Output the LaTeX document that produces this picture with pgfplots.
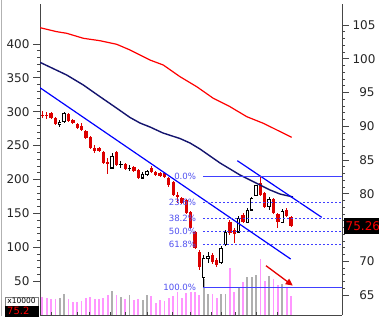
\documentclass[border=0pt]{standalone}
\usepackage{pgfplots}
\pgfplotsset{compat=1.18}
\usepackage{pgfplotstable}
\usepackage{fontspec}
\setmainfont{DejaVu Sans}
\usetikzlibrary{arrows.meta}

\definecolor{candred}{RGB}{220,0,0}
\definecolor{volpink}{RGB}{255,150,255}
\definecolor{volgray}{RGB}{175,175,175}
\definecolor{fibblue}{RGB}{64,64,255}
\definecolor{fibtext}{RGB}{80,80,240}
\definecolor{navyma}{RGB}{20,20,110}
\definecolor{trendblue}{RGB}{0,0,255}
\definecolor{axisgray}{RGB}{70,70,70}

% red (down) candles: index, open, high, low, close, volume (x10000)
\pgfplotstableread{
i o h l c v
0 91.67 92.26 91.22 91.52 27.0
1 91.74 92.11 91.07 91.59 25.6
2 91.96 92.11 91.07 91.22 23.2
3 91.22 91.37 90.19 90.33 23.2
6 91.81 91.96 90.63 90.78 24.1
7 90.93 91.07 90.33 90.48 19.6
8 90.33 90.48 89.59 89.74 19.6
9 90.04 90.48 89.30 89.44 21.1
10 89.30 89.44 88.11 88.26 24.7
11 88.41 88.56 86.63 86.78 26.6
12 86.78 87.22 86.04 86.33 23.2
13 86.78 86.93 86.19 86.33 23.2
14 86.19 86.33 84.41 84.56 25.6
15 84.70 85.30 82.93 84.56 30.0
17 86.19 86.33 84.11 84.26 30.0
19 84.41 84.56 83.52 83.67 24.1
21 83.96 84.11 83.22 83.37 22.2
22 83.52 83.67 82.19 82.33 24.1
25 83.81 84.11 83.07 83.22 28.1
26 83.22 83.37 82.63 82.78 18.2
27 83.07 83.22 82.48 82.63 21.7
28 83.07 83.22 82.33 82.48 21.1
29 82.33 82.48 81.00 81.30 24.7
30 81.74 81.89 79.67 79.81 28.1
31 79.81 80.26 78.63 79.52 33.5
32 79.37 79.52 78.48 78.63 24.7
33 79.07 79.22 77.00 77.15 32.1
34 77.30 77.44 74.78 74.93 33.5
35 74.33 74.48 71.81 71.96 34.4
36 71.37 71.67 68.70 69.15 29.5
39 70.93 71.22 69.59 69.89 30.6
40 70.19 70.48 69.15 69.44 24.7
43 75.81 76.11 73.89 74.19 69.9
44 74.63 74.93 72.70 74.04 33.5
46 76.85 77.15 75.67 75.81 48.3
50 81.59 82.63 79.67 79.81 82.0
51 80.11 80.26 77.89 78.04 50.2
53 79.22 79.37 77.00 77.15 53.2
54 77.00 77.15 74.93 75.81 44.3
56 77.59 77.89 76.56 76.70 39.9
57 76.56 76.70 75.07 75.26 28.1
}\downc

% hollow (up) candles
\pgfplotstableread{
i o h l c v
4 90.19 90.93 89.89 90.63 25.6
5 90.63 92.11 90.48 91.96 31.0
16 83.81 86.04 83.67 85.59 35.5
18 84.33 84.85 83.81 84.41 26.1
20 83.74 84.26 83.37 83.81 30.0
23 82.33 83.22 82.19 82.93 22.6
24 82.78 83.52 82.63 83.37 29.1
37 67.52 70.93 66.18 70.48 53.2
38 70.48 71.37 69.74 70.78 31.0
41 69.74 72.26 69.59 71.96 30.6
42 72.41 74.63 72.26 74.33 30.6
45 74.33 76.70 74.19 76.41 39.4
47 75.81 77.89 75.67 77.59 56.6
48 77.59 79.52 77.44 79.37 56.6
49 79.81 81.30 79.67 81.16 59.1
52 78.04 79.52 77.59 79.22 58.3
55 75.81 77.74 75.67 77.44 45.1
}\upc

\begin{document}
\begin{tikzpicture}
% ---------- volume axis (left) ----------
\begin{axis}[
  at={(40pt,1pt)}, anchor=south west, scale only axis,
  width=302pt, height=311pt,
  xmin=-0.53, xmax=68.69, ymin=0, ymax=459,
  axis y line*=left, axis x line=none,
  ytick={50,100,...,400}, minor y tick num=4,
  tick align=outside, major tick length=7pt, minor tick length=3pt,
  axis line style={draw=axisgray, line width=0.8pt},
  every tick/.style={draw=axisgray, line width=0.8pt},
  /pgf/number format/assume math mode=true,
  yticklabel style={font=\fontsize{12}{12}\selectfont, text=black!85},
]
\addplot[ycomb, volpink, line width=1.8pt] table[x=i,y=v]{\downc};
\addplot[ycomb, volgray, line width=1.8pt] table[x=i,y=v]{\upc};
\end{axis}

% ---------- bottom time axis ----------
\begin{axis}[
  at={(40pt,1pt)}, anchor=south west, scale only axis,
  width=302pt, height=311pt,
  xmin=-0.53, xmax=68.69, ymin=0, ymax=1,
  axis y line=none, axis x line*=bottom,
  xtick={2.0,7.95,10.9,15.5,19.0,24.2,29.9,34.0,38.8,41.1,44.2,49.0,53.9},
  xticklabels={},
  tick align=inside, major tick length=3pt,
  axis line style={draw=axisgray, line width=0.8pt},
  every tick/.style={draw=axisgray, line width=0.8pt},
]
\addplot[draw=none] coordinates {(0,0)};
\end{axis}

% ---------- price axis (right) ----------
\begin{axis}[
  at={(40pt,1pt)}, anchor=south west, scale only axis,
  width=302pt, height=311pt,
  xmin=-0.53, xmax=68.69, ymin=62.04, ymax=108.11,
  axis x line=none, axis y line*=right,
  ytick={65,70,75,80,85,90,95,100,105},
  yticklabels={65,70,,80,85,90,95,100,105},
  minor y tick num=4,
  tick align=outside, major tick length=7pt, minor tick length=3pt,
  axis line style={draw=axisgray, line width=0.8pt},
  every tick/.style={draw=axisgray, line width=0.8pt},
  yticklabel style={font=\fontsize{12}{12}\selectfont, text=black!85, text width=22pt, align=right},
]
% red candles: wicks, bodies
\addplot[draw=none, mark=none, forget plot,
  error bars/.cd, y dir=both, y explicit, error mark=none,
  error bar style={draw=candred, line width=0.9pt}]
  table[x=i, y expr={(\thisrow{h}+\thisrow{l})/2}, y error expr={(\thisrow{h}-\thisrow{l})/2}]{\downc};
\addplot[draw=none, mark=none, forget plot,
  error bars/.cd, y dir=both, y explicit, error mark=none,
  error bar style={draw=candred, line width=3.3pt}]
  table[x=i, y expr={(\thisrow{o}+\thisrow{c})/2}, y error expr={(\thisrow{o}-\thisrow{c})/2}]{\downc};
% hollow candles
\addplot[draw=none, mark=none, forget plot,
  error bars/.cd, y dir=both, y explicit, error mark=none,
  error bar style={draw=black, line width=0.9pt}]
  table[x=i, y expr={(\thisrow{h}+\thisrow{l})/2}, y error expr={(\thisrow{h}-\thisrow{l})/2}]{\upc};
\addplot[draw=none, mark=none, forget plot,
  error bars/.cd, y dir=both, y explicit, error mark=none,
  error bar style={draw=black, line width=3.4pt}]
  table[x=i, y expr={(\thisrow{o}+\thisrow{c})/2}, y error expr={(\thisrow{c}-\thisrow{o})/2+0.07}]{\upc};
\addplot[draw=none, mark=none, forget plot,
  error bars/.cd, y dir=both, y explicit, error mark=none,
  error bar style={draw=white, line width=1.6pt}]
  table[x=i, y expr={(\thisrow{o}+\thisrow{c})/2}, y error expr={max((\thisrow{c}-\thisrow{o})/2-0.08,0)}]{\upc};

% moving averages
\addplot[red, line width=1.2pt] coordinates {
(-0.53,104.60) (3.30,104.01) (5.59,103.77) (9.40,103.03) (13.22,102.67) (17.05,102.14)
(20.10,101.30) (24.68,99.81) (27.73,99.07) (31.56,97.34) (35.39,95.86) (39.19,94.14)
(43.02,92.90) (46.85,91.42) (50.65,90.44) (57.16,88.36)};
\addplot[navyma, line width=1.4pt] coordinates {
(-0.53,99.47) (5.59,97.59) (9.40,96.11) (13.22,94.38) (16.66,92.85) (20.10,91.30)
(22.39,90.48) (24.68,89.89) (27.66,89.00) (31.56,88.18) (33.85,87.52) (36.14,86.63)
(38.44,85.59) (40.73,84.56) (43.02,83.67) (45.31,82.78) (47.60,82.04) (49.90,81.30)
(52.19,80.56) (54.48,79.96) (57.46,79.52)};

% trend lines
\addplot[trendblue, line width=1.2pt] coordinates {(-0.53,95.71) (56.93,70.33)};
\addplot[trendblue, line width=1.2pt] coordinates {(44.69,84.90) (64.04,76.51)};

% Fibonacci levels
\addplot[fibblue, line width=0.9pt] coordinates {(36.9,82.63) (68.69,82.63)};
\addplot[fibblue, line width=0.9pt, dash pattern=on 2pt off 2pt] coordinates {(36.9,78.75) (68.69,78.75)};
\addplot[fibblue, line width=0.9pt, dash pattern=on 2pt off 2pt] coordinates {(36.9,76.35) (68.69,76.35)};
\addplot[fibblue, line width=0.9pt, dash pattern=on 2pt off 2pt] coordinates {(36.9,74.41) (68.69,74.41)};
\addplot[fibblue, line width=0.9pt, dash pattern=on 2pt off 2pt] coordinates {(36.9,72.46) (68.69,72.46)};
\addplot[fibblue, line width=0.9pt] coordinates {(36.9,66.18) (68.69,66.18)};

\begin{scope}[every node/.style={anchor=east, text=fibtext, font=\fontsize{8.6}{8.6}\selectfont, inner sep=0pt}]
\node at (axis cs:35.3,82.63) {0.0\%};
\node at (axis cs:35.3,78.75) {23.6\%};
\node at (axis cs:35.3,76.35) {38.2\%};
\node at (axis cs:35.3,74.41) {50.0\%};
\node at (axis cs:35.3,72.46) {61.8\%};
\node at (axis cs:35.3,66.18) {100.0\%};
\end{scope}

\draw[-{Triangle[length=7pt,width=6.5pt]}, red!90!black, line width=1.3pt]
  (axis cs:51.27,69.34) -- (axis cs:57.4,66.40);
\end{axis}

% last price tag and bottom-left boxes
\fill[black] (344pt,82pt) rectangle (380pt,98pt);
\node[anchor=west, text=red, inner sep=0pt, font=\fontsize{12}{12}\selectfont] at (345.5pt,90pt) {75.26};
\draw[gray!60, line width=1.6pt] (1.5pt,0pt) -- (1.5pt,316pt);
\draw[fill=white, draw=gray] (5pt,10pt) rectangle (38.5pt,19pt);
\node[inner sep=0pt, font=\fontsize{7.5}{7.5}\selectfont] at (21.5pt,14.8pt) {x10000};
\fill[black] (5pt,-2pt) rectangle (38.5pt,10pt);
\node[anchor=north west, text=red, inner sep=0pt, font=\fontsize{10}{10}\selectfont] at (7pt,9.2pt) {75.2};

\pgfresetboundingbox
\path[use as bounding box] (0pt,0pt) rectangle (379pt,316pt);
\end{tikzpicture}
\end{document}
